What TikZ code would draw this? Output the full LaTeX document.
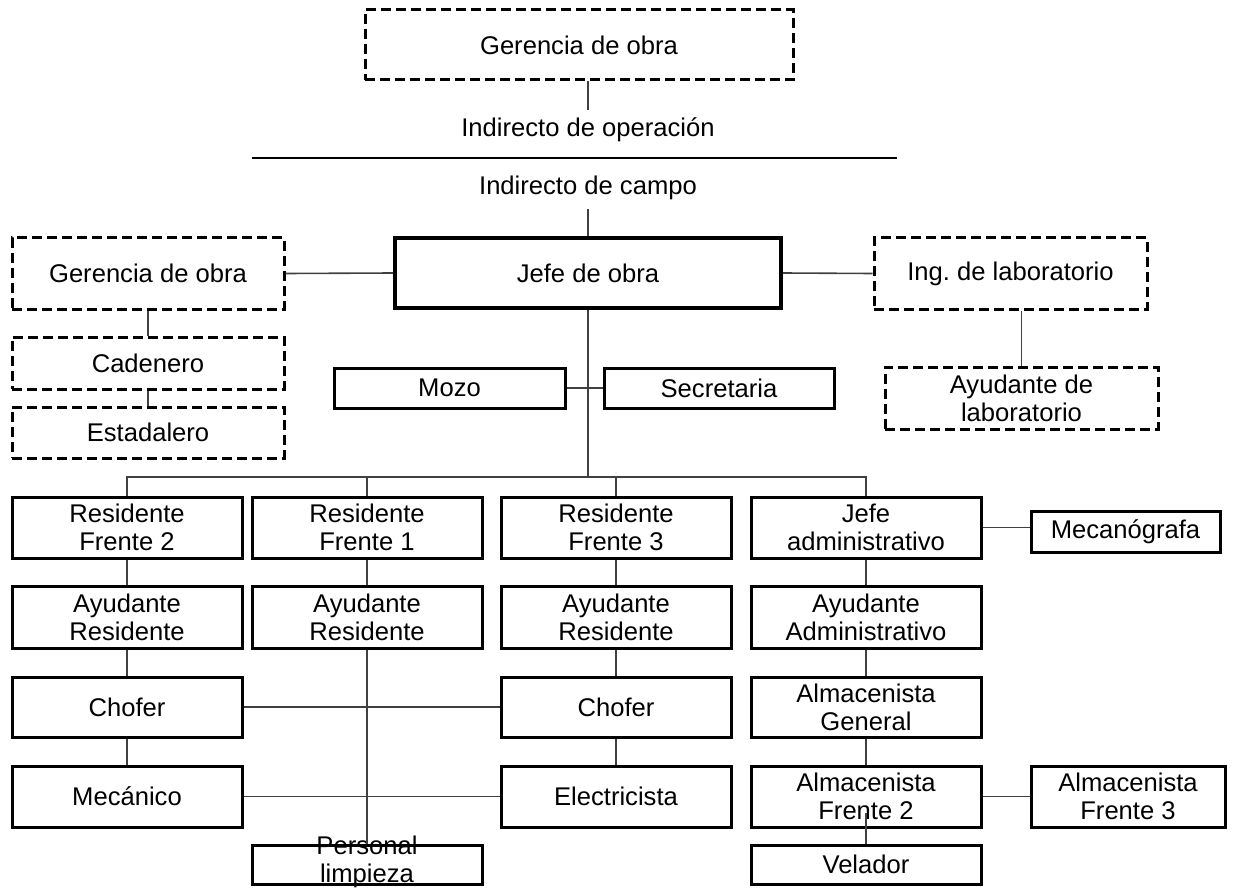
\documentclass[tikz,border=0pt]{standalone}
\usepackage{fontspec}
\setmainfont{Liberation Sans}
\begin{document}
\begin{tikzpicture}[x=0.5pt,y=-0.5pt,
  every node/.style={font=\fontsize{12.8}{14}\selectfont},
  caja/.style={draw, line width=1.5pt, inner sep=0pt, align=center},
  cajapunt/.style={caja, dash pattern=on 5pt off 2.5pt},
  col/.style={caja, minimum width=115pt, minimum height=30.5pt},
  linea/.style={line width=0.8pt, black!75}]

\useasboundingbox (0,0) rectangle (1233,888);

% parte superior
\node[cajapunt, minimum width=214pt, minimum height=35pt] (gerTop) at (579,45) {Gerencia de obra};
\node[inner sep=0pt] (indOp) at (588,130) {Indirecto de operación};
\node[inner sep=0pt] (indCa) at (588,188) {Indirecto de campo};
\coordinate (opArr) at (588,110);
\coordinate (campAb) at (588,209);
\coordinate (lineaIzq) at (252,158);
\coordinate (lineaDer) at (897,158);
\draw[linea] (gerTop.south -| opArr) -- (opArr);
\draw[line width=1.2pt] (lineaIzq) -- (lineaDer);

% jefe de obra
\node[caja, line width=2pt, minimum width=193pt, minimum height=35pt] (jefe) at (588,273) {Jefe de obra};
\node[cajapunt, minimum width=136pt, minimum height=35.5pt] (gerIzq) at (148,273.5) {Gerencia de obra};
\node[cajapunt, minimum width=136.5pt, minimum height=35.5pt] (ing) at (1010.5,273.5) {Ing.\ de laboratorio};
\node[cajapunt, minimum width=136pt, minimum height=26pt] (cad) at (148,363) {Cadenero};
\node[cajapunt, minimum width=136pt, minimum height=25.5pt] (est) at (148,432.5) {Estadalero};
\node[caja, minimum width=115.5pt, minimum height=20pt] (mozo) at (449.5,388) {Mozo};
\node[caja, minimum width=115pt, minimum height=20pt] (secr) at (719,388) {Secretaria};
\node[cajapunt, minimum width=136.5pt, minimum height=31pt] (ayuLab) at (1021.5,398) {Ayudante de\\laboratorio};
\coordinate (bus) at (588,477);
\draw[linea] (campAb) -- (jefe.north);
\draw[linea] (gerIzq.east) -- (jefe.west);
\draw[linea] (jefe.east) -- (ing.west);
\draw[linea] (gerIzq) -- (cad);
\draw[linea] (cad) -- (est);
\draw[linea] (ayuLab.north) -- (ayuLab.north |- ing.south);
\draw[linea] (jefe.south) -- (bus);
\draw[linea] (mozo.east) -- (secr.west);

% residentes
\node[col] (res2) at (127,527.5) {Residente\\Frente 2};
\node[col] (res1) at (367,527.5) {Residente\\Frente 1};
\node[col] (res3) at (616,527.5) {Residente\\Frente 3};
\node[col] (jadm) at (866,527.5) {Jefe\\administrativo};
\node[caja, minimum width=94.5pt, minimum height=20.5pt] (mecan) at (1125.5,531.5) {Mecanógrafa};
\foreach \n in {res2,res1,res3,jadm}
  \draw[linea] (\n.north) |- (bus);
\draw[linea] (jadm.east) -- (jadm.east -| mecan.west);

\node[col, minimum height=31pt] (ayu2) at (127,617) {Ayudante\\Residente};
\node[col, minimum height=31pt] (ayu1) at (367,617) {Ayudante\\Residente};
\node[col, minimum height=31pt] (ayu3) at (616,617) {Ayudante\\Residente};
\node[col, minimum height=31pt] (ayuAdm) at (866,617) {Ayudante\\Administrativo};

\node[col, minimum height=30pt] (chof2) at (127,707) {Chofer};
\node[col, minimum height=30pt] (chof3) at (616,707) {Chofer};
\node[col, minimum height=30pt] (almGen) at (866,707) {Almacenista\\General};

\node[col] (mec) at (127,796.5) {Mecánico};
\node[col] (elec) at (616,796.5) {Electricista};
\node[col] (alm2) at (866,796.5) {Almacenista\\Frente 2};
\node[col, minimum width=97pt] (alm3) at (1128,796.5) {Almacenista\\Frente 3};

\node[draw, line width=1.5pt, inner sep=0pt, minimum width=115pt, minimum height=19.5pt] (lim) at (367,864.5)
  {\raisebox{-9pt}[0pt][0pt]{\begin{tabular}[b]{@{}c@{}}Personal\\limpieza\end{tabular}}};
\node[col, minimum height=19.5pt] (vel) at (866,864.5) {Velador};
\coordinate (velArr) at (866,813);

% lineas de mando
\draw[linea] (res2) -- (ayu2);
\draw[linea] (ayu2) -- (chof2);
\draw[linea] (chof2) -- (mec);
\draw[linea] (res1) -- (ayu1);
\draw[linea] (ayu1) -- (lim);
\draw[linea] (res3) -- (ayu3);
\draw[linea] (ayu3) -- (chof3);
\draw[linea] (chof3) -- (elec);
\draw[linea] (jadm) -- (ayuAdm);
\draw[linea] (ayuAdm) -- (almGen);
\draw[linea] (almGen) -- (alm2);
\draw[linea] (velArr) -- (vel.north);
\draw[linea] (chof2.east) -- (chof3.west);
\draw[linea] (mec.east) -- (elec.west);
\draw[linea] (alm2.east) -- (alm3.west);

\end{tikzpicture}
\end{document}
